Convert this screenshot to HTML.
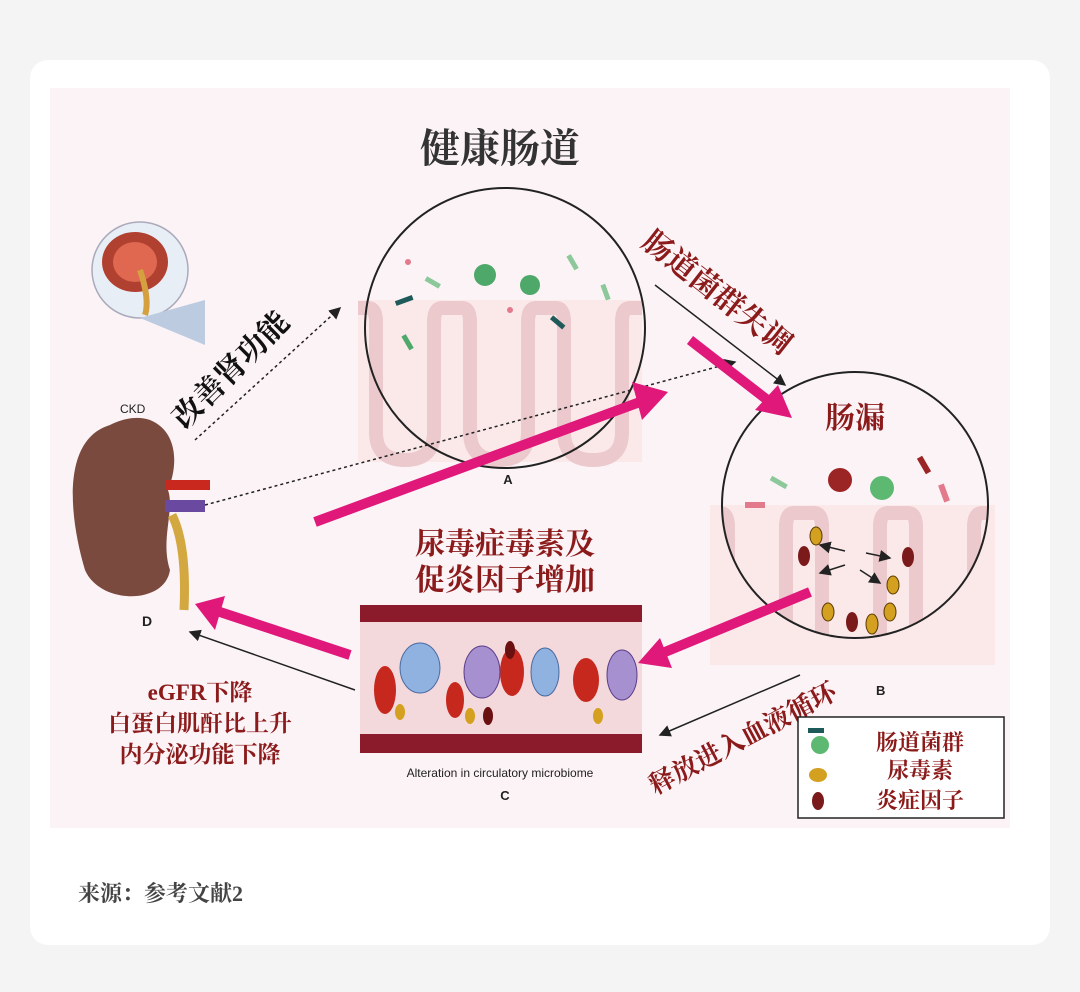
<!DOCTYPE html>
<html><head><meta charset="utf-8"><style>
html,body{margin:0;padding:0;background:#f4f4f4;width:1080px;height:992px;overflow:hidden}
svg{display:block}
text{font-family:"Liberation Serif","Noto Serif CJK SC",serif;font-weight:bold}
.s{font-family:"Liberation Sans","Noto Sans CJK SC",sans-serif;font-weight:normal}
</style></head><body>
<svg width="1080" height="992" viewBox="0 0 1080 992" xmlns="http://www.w3.org/2000/svg">
<defs>
<marker id="ah" markerWidth="8" markerHeight="8" refX="7" refY="4" orient="auto"><path d="M0,0L8,4L0,8z" fill="#222"/></marker>
<clipPath id="cA"><circle cx="505" cy="328" r="140"/></clipPath>
<clipPath id="cB"><circle cx="855" cy="505" r="133"/></clipPath>
<pattern id="vil" width="94" height="170" patternUnits="userSpaceOnUse" x="358" y="300">
<path d="M0,8 h10 q8,0 8,14 v110 q0,28 29,28 q29,0 29,-28 v-110 q0,-14 8,-14 h10" fill="none" stroke="#ebc9cc" stroke-width="14"/>
</pattern>
</defs>
<rect x="30" y="60" width="1020" height="885" rx="18" fill="#fff"/>
<rect x="50" y="88" width="960" height="740" fill="#fcf3f7"/>
<text x="500" y="162" font-size="40" text-anchor="middle" fill="#333" font-family="Noto Sans CJK SC,sans-serif">健康肠道</text>
<rect x="358" y="300" width="284" height="162" fill="#fbe9ea"/>
<rect x="358" y="300" width="284" height="170" fill="url(#vil)"/>
<circle cx="505" cy="328" r="140" fill="none" stroke="#222" stroke-width="2"/>
<g clip-path="url(#cA)">
<circle cx="485" cy="275" r="11" fill="#4ea86a"/><circle cx="530" cy="285" r="10" fill="#4ea86a"/>
<rect x="395" y="298" width="18" height="5" fill="#1e5a5a" transform="rotate(-20 404 300)"/>
<rect x="425" y="280" width="16" height="5" fill="#8cc89a" transform="rotate(30 433 282)"/>
<rect x="565" y="260" width="16" height="5" fill="#8cc89a" transform="rotate(60 573 262)"/>
<rect x="598" y="290" width="16" height="5" fill="#8cc89a" transform="rotate(70 606 292)"/>
<rect x="400" y="340" width="16" height="5" fill="#4ea86a" transform="rotate(60 408 342)"/>
<rect x="550" y="320" width="16" height="5" fill="#1e5a5a" transform="rotate(40 558 322)"/>
<circle cx="408" cy="262" r="3" fill="#e27a8c"/><circle cx="510" cy="310" r="3" fill="#e27a8c"/>
</g>
<text x="508" y="484" class="s" font-size="13" text-anchor="middle" fill="#222" style="font-weight:bold">A</text>
<rect x="710" y="505" width="285" height="160" fill="#fbe9ea"/>
<g clip-path="url(#cB)"><g transform="translate(352,205)"><rect x="358" y="300" width="284" height="170" fill="url(#vil)"/></g></g>
<circle cx="855" cy="505" r="133" fill="none" stroke="#222" stroke-width="2"/>
<circle cx="840" cy="480" r="12" fill="#9b2424"/><circle cx="882" cy="488" r="12" fill="#5db872"/>
<rect x="745" y="502" width="20" height="6" fill="#e27a8c"/><rect x="770" y="480" width="18" height="5" fill="#8cc89a" transform="rotate(30 779 482)"/>
<rect x="915" y="462" width="18" height="6" fill="#9b2424" transform="rotate(60 924 465)"/>
<rect x="935" y="490" width="18" height="6" fill="#e27a8c" transform="rotate(70 944 493)"/>
<g fill="#d4a020" stroke="#5a3a00"><ellipse cx="816" cy="536" rx="6" ry="9"/><ellipse cx="893" cy="585" rx="6" ry="9"/><ellipse cx="828" cy="612" rx="6" ry="9"/><ellipse cx="872" cy="624" rx="6" ry="10"/><ellipse cx="890" cy="612" rx="6" ry="9"/></g>
<g fill="#7a1a1a"><ellipse cx="804" cy="556" rx="6" ry="10"/><ellipse cx="908" cy="557" rx="6" ry="10"/><ellipse cx="852" cy="622" rx="6" ry="10"/></g>
<g stroke="#222" stroke-width="1.5" marker-end="url(#ah)"><line x1="845" y1="551" x2="820" y2="545"/><line x1="866" y1="553" x2="890" y2="558"/><line x1="845" y1="565" x2="820" y2="573"/><line x1="860" y1="570" x2="880" y2="583"/></g>
<text x="855" y="428" font-size="30" text-anchor="middle" fill="#8b1a1a">肠漏</text>
<text x="876" y="695" class="s" font-size="13" fill="#222" style="font-weight:bold">B</text>
<rect x="360" y="605" width="282" height="148" fill="#8b1a2a"/>
<rect x="360" y="622" width="282" height="112" fill="#f3d9dc"/>
<g fill="#c7281e"><ellipse cx="385" cy="690" rx="11" ry="24"/><ellipse cx="512" cy="672" rx="12" ry="24"/><ellipse cx="586" cy="680" rx="13" ry="22"/><ellipse cx="455" cy="700" rx="9" ry="18"/></g>
<g fill="#8fb2e0" stroke="#4a6aa0"><ellipse cx="420" cy="668" rx="20" ry="25"/><ellipse cx="545" cy="672" rx="14" ry="24"/></g>
<g fill="#a690cf" stroke="#5a3b8a"><ellipse cx="482" cy="672" rx="18" ry="26"/><ellipse cx="622" cy="675" rx="15" ry="25"/></g>
<g fill="#d4a020"><ellipse cx="400" cy="712" rx="5" ry="8"/><ellipse cx="598" cy="716" rx="5" ry="8"/><ellipse cx="470" cy="716" rx="5" ry="8"/></g>
<g fill="#6a1010"><ellipse cx="488" cy="716" rx="5" ry="9"/><ellipse cx="510" cy="650" rx="5" ry="9"/></g>
<text x="500" y="777" class="s" font-size="12" text-anchor="middle" fill="#222">Alteration in circulatory microbiome</text>
<text x="505" y="800" class="s" font-size="13" text-anchor="middle" fill="#222" style="font-weight:bold">C</text>
<text x="505" y="554" font-size="30" text-anchor="middle" fill="#8b1a1a">尿毒症毒素及</text>
<text x="505" y="590" font-size="30" text-anchor="middle" fill="#8b1a1a">促炎因子增加</text>
<circle cx="140" cy="270" r="48" fill="#e8eef5" stroke="#aab" stroke-width="1.5"/>
<polygon points="140,318 205,300 205,345" fill="#bccbe0"/>
<ellipse cx="135" cy="262" rx="33" ry="30" fill="#b04030"/><ellipse cx="135" cy="262" rx="22" ry="20" fill="#e06850"/>
<path d="M140,270 q10,30 5,45" stroke="#d4a040" stroke-width="6" fill="none"/>
<text x="120" y="413" class="s" font-size="12" fill="#222">CKD</text>
<path d="M110,425 C60,440 70,520 85,570 C100,605 165,605 170,570 C160,540 175,510 168,490 C180,460 175,430 150,420 C135,415 120,420 110,425 Z" fill="#7a4a3e"/>
<path d="M165,480 h45 v10 h-45z" fill="#c8281e"/><path d="M165,500 h40 v12 h-40z" fill="#6a4aa0"/>
<path d="M172,515 q15,30 12,95" stroke="#d4a840" stroke-width="9" fill="none"/>
<text x="142" y="626" class="s" font-size="14" fill="#222" style="font-weight:bold">D</text>
<text x="200" y="700" font-size="23" text-anchor="middle" fill="#8b1a1a">eGFR下降</text>
<text x="200" y="731" font-size="23" text-anchor="middle" fill="#8b1a1a">白蛋白肌酐比上升</text>
<text x="200" y="762" font-size="23" text-anchor="middle" fill="#8b1a1a">内分泌功能下降</text>
<g stroke="#222" stroke-width="1.5" fill="none">
<line x1="195" y1="440" x2="340" y2="308" stroke-dasharray="3,3" marker-end="url(#ah)"/>
<line x1="205" y1="505" x2="735" y2="362" stroke-dasharray="3,3" marker-end="url(#ah)"/>
<line x1="655" y1="285" x2="785" y2="385" marker-end="url(#ah)"/>
<line x1="800" y1="675" x2="660" y2="735" marker-end="url(#ah)"/>
<line x1="355" y1="690" x2="190" y2="632" marker-end="url(#ah)"/>
</g>
<g stroke="#e0187a" stroke-width="10" fill="#e0187a">
<line x1="315" y1="522" x2="640" y2="402"/><polygon points="668,392 632,382 642,420" stroke="none"/>
<line x1="690" y1="340" x2="770" y2="402"/><polygon points="792,418 755,410 778,385" stroke="none"/>
<line x1="810" y1="592" x2="665" y2="652"/><polygon points="638,663 660,638 672,668" stroke="none"/>
<line x1="350" y1="655" x2="220" y2="612"/><polygon points="195,604 225,596 215,630" stroke="none"/>
</g>
<text font-size="30" fill="#8b1a1a" transform="translate(640,245) rotate(38)">肠道菌群失调</text>
<text font-size="30" fill="#111" transform="translate(185,430) rotate(-45)">改善肾功能</text>
<text font-size="26" fill="#8b1a1a" transform="translate(655,795) rotate(-28)">释放进入血液循环</text>
<rect x="798" y="717" width="206" height="101" fill="#fff" stroke="#222" stroke-width="1.5"/>
<circle cx="820" cy="745" r="9" fill="#5db872"/><rect x="808" y="728" width="16" height="5" fill="#1e5a5a"/>
<ellipse cx="818" cy="775" rx="9" ry="7" fill="#d4a020"/>
<ellipse cx="818" cy="801" rx="6" ry="9" fill="#7a1a1a"/>
<text x="920" y="750" font-size="22" text-anchor="middle" fill="#8b1a1a">肠道菌群</text>
<text x="920" y="778" font-size="22" text-anchor="middle" fill="#8b1a1a">尿毒素</text>
<text x="920" y="808" font-size="22" text-anchor="middle" fill="#8b1a1a">炎症因子</text>
<text x="78" y="901" font-size="22" fill="#444">来源：参考文献2</text>
</svg>
</body></html>
